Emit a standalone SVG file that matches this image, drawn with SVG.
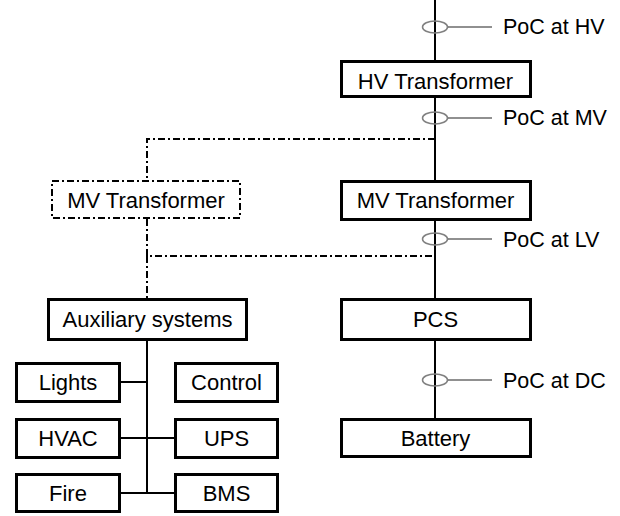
<svg xmlns="http://www.w3.org/2000/svg" width="620" height="516" viewBox="0 0 620 516">
<style>
.box{fill:#fff;stroke:#000;stroke-width:3}
.dbox{fill:#fff;stroke:#000;stroke-width:2;stroke-dasharray:7 3 2 3}
.t{font-family:"Liberation Sans",Arial,sans-serif;font-size:22px;fill:#000;text-anchor:middle}
.pt{font-family:"Liberation Sans",Arial,sans-serif;font-size:21.5px;fill:#000}
.w{fill:none;stroke:#000;stroke-width:2}
.dash{fill:none;stroke:#000;stroke-width:2;stroke-dasharray:7 3 2 3}
.poc{fill:none;stroke:#808080;stroke-width:1.5}
.lead{fill:none;stroke:#222;stroke-width:1.2}
</style>
<g id="connectors">
<line class="w" x1="435" y1="0" x2="435" y2="418"/>
<path class="dash" d="M435,139 H147 V180"/>
<path class="dash" d="M147,219 V256 H435"/>
<path class="dash" d="M147,256 V298"/>
<line class="w" x1="147" y1="341" x2="147" y2="493"/>
<line class="w" x1="121" y1="382" x2="147" y2="382"/>
<line class="w" x1="121" y1="438" x2="174" y2="438"/>
<line class="w" x1="121" y1="493" x2="174" y2="493"/>
</g>
<g id="poc-hv">
<ellipse class="poc" cx="435" cy="27" rx="12.5" ry="6"/>
<line class="lead" x1="448" y1="27" x2="492" y2="27"/>
<text class="pt" x="503" y="33.5">PoC at HV</text>
</g>
<g id="poc-mv">
<ellipse class="poc" cx="435" cy="118" rx="12.5" ry="6"/>
<line class="lead" x1="448" y1="118" x2="492" y2="118"/>
<text class="pt" x="503" y="124.5">PoC at MV</text>
</g>
<g id="poc-lv">
<ellipse class="poc" cx="435" cy="239" rx="12.5" ry="6"/>
<line class="lead" x1="448" y1="239" x2="492" y2="239"/>
<text class="pt" x="503" y="246.5">PoC at LV</text>
</g>
<g id="poc-dc">
<ellipse class="poc" cx="435" cy="380" rx="12.5" ry="6"/>
<line class="lead" x1="448" y1="380" x2="492" y2="380"/>
<text class="pt" x="503" y="387.5">PoC at DC</text>
</g>
<g id="hv-transformer">
<rect class="box" x="341.5" y="61.5" width="189" height="35"/>
<text class="t" x="435.5" y="89">HV Transformer</text>
</g>
<g id="mv-transformer">
<rect class="box" x="341.5" y="181.5" width="189" height="38"/>
<text class="t" x="435.5" y="208">MV Transformer</text>
</g>
<g id="mv-transformer-aux">
<rect class="dbox" x="52" y="181" width="188" height="37"/>
<text class="t" x="146" y="208">MV Transformer</text>
</g>
<g id="pcs">
<rect class="box" x="341.5" y="299.5" width="189" height="40"/>
<text class="t" x="435.5" y="326.5">PCS</text>
</g>
<g id="battery">
<rect class="box" x="341.5" y="419.5" width="189" height="37"/>
<text class="t" x="435.5" y="446">Battery</text>
</g>
<g id="auxiliary">
<rect class="box" x="48.5" y="299.5" width="198" height="40"/>
<text class="t" x="147.5" y="326.5">Auxiliary systems</text>
</g>
<g id="lights">
<rect class="box" x="16.5" y="363.5" width="103" height="38"/>
<text class="t" x="68" y="390">Lights</text>
</g>
<g id="control">
<rect class="box" x="175.5" y="363.5" width="102" height="38"/>
<text class="t" x="226.5" y="390">Control</text>
</g>
<g id="hvac">
<rect class="box" x="16.5" y="419.5" width="103" height="38"/>
<text class="t" x="68" y="446">HVAC</text>
</g>
<g id="ups">
<rect class="box" x="175.5" y="419.5" width="102" height="38"/>
<text class="t" x="226.5" y="446">UPS</text>
</g>
<g id="fire">
<rect class="box" x="16.5" y="474.5" width="103" height="37"/>
<text class="t" x="68" y="500.5">Fire</text>
</g>
<g id="bms">
<rect class="box" x="175.5" y="474.5" width="102" height="37"/>
<text class="t" x="226.5" y="500.5">BMS</text>
</g>
</svg>
